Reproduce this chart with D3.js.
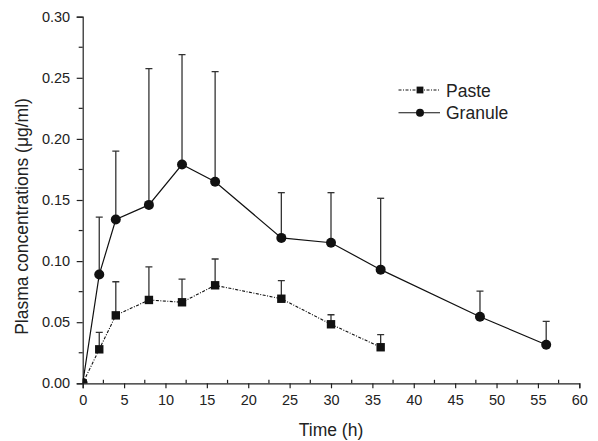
<!DOCTYPE html>
<html><head><meta charset="utf-8">
<script src="https://cdn.jsdelivr.net/npm/d3@7"></script>
<style>body{margin:0;background:#fff}svg{display:block}text{font-family:"Liberation Sans",Arial,sans-serif;fill:#222}</style>
</head><body><div id="c"></div>
<script>
const times = [0,2,4,8,12,16,24,30,36,48,56];
const granuleMean = [0,0.089,0.134,0.146,0.179,0.165,0.119,0.115,0.093,0.0545,0.0316];
const granuleSD = [0,0.047,0.056,0.1115,0.090,0.090,0.037,0.041,0.0584,0.021,0.019];
const pasteTimes = [0,2,4,8,12,16,24,30,36];
const pasteMean = [0,0.0278,0.0556,0.0682,0.0663,0.0802,0.0692,0.0483,0.0295];
const pasteSD = [0,0.0139,0.0275,0.027,0.019,0.0215,0.0148,0.0078,0.0103];
const xTicks = [0,5,10,15,20,25,30,35,40,45,50,55,60];
const yTicks = [0,0.05,0.10,0.15,0.20,0.25,0.30];
const seriesNames = ["Paste","Granule"];

const W=598,H=441;
const svg=d3.select("#c").append("svg").attr("width",W).attr("height",H);
const x=d3.scaleLinear().domain([0,60]).range([82.7,579.3]);
const y=d3.scaleLinear().domain([0,0.30]).range([383.3,16.7]);
const ink="#222";

svg.append("defs").append("clipPath").attr("id","pc").append("rect")
  .attr("x",x(0)).attr("y",0).attr("width",x(60)-x(0)+10).attr("height",y(0));

// axes
const xAx=svg.append("g").attr("transform",`translate(0,${y(0)})`)
  .call(d3.axisBottom(x).tickValues(xTicks).tickSize(5).tickPadding(6).tickFormat(d3.format("d")));
const yAx=svg.append("g").attr("transform",`translate(${x(0)},0)`)
  .call(d3.axisLeft(y).tickValues(yTicks).tickSize(6).tickPadding(6.5).tickFormat(d3.format(".2f")));
[xAx,yAx].forEach(g=>{
  g.select(".domain").attr("stroke",ink).attr("stroke-width",1.2);
  g.selectAll(".tick line").attr("stroke",ink).attr("stroke-width",1.2);
  g.selectAll(".tick text").attr("font-size",14.5).attr("fill","#222").style("font-family","Liberation Sans, Arial, sans-serif");
});
// minor ticks
svg.append("g").selectAll("line").data(d3.range(2.5,60,5)).join("line")
  .attr("x1",d=>x(d)).attr("x2",d=>x(d)).attr("y1",y(0)).attr("y2",y(0)-3.5)
  .attr("stroke",ink).attr("stroke-width",1.2);
svg.append("g").selectAll("line").data(d3.range(0.025,0.30,0.05)).join("line")
  .attr("x1",x(0)).attr("x2",x(0)-4).attr("y1",d=>y(d)).attr("y2",d=>y(d))
  .attr("stroke",ink).attr("stroke-width",1.2);

// titles
svg.append("text").attr("x",331).attr("y",436).attr("text-anchor","middle").attr("font-size",17.5).text("Time (h)");
svg.append("text").attr("transform",`translate(28,216.5) rotate(-90)`).attr("text-anchor","middle").attr("font-size",17.5).text("Plasma concentrations (\u03bcg/ml)");

const plot=svg.append("g").attr("clip-path","url(#pc)");
const granule=times.map((t,i)=>({t,m:granuleMean[i],s:granuleSD[i]}));
const paste=pasteTimes.map((t,i)=>({t,m:pasteMean[i],s:pasteSD[i]}));

// error bars
function errBars(data){
  const g=plot.append("g").attr("stroke","#333").attr("stroke-width",1.3);
  data.filter(d=>d.s>0).forEach(d=>{
    g.append("line").attr("x1",x(d.t)).attr("x2",x(d.t)).attr("y1",y(d.m)).attr("y2",y(d.m+d.s));
    g.append("line").attr("x1",x(d.t)-3.5).attr("x2",x(d.t)+3.5).attr("y1",y(d.m+d.s)).attr("y2",y(d.m+d.s));
  });
}
errBars(granule);errBars(paste);

const line=d3.line().x(d=>x(d.t)).y(d=>y(d.m));
plot.append("path").datum(granule).attr("d",line).attr("fill","none").attr("stroke","#111").attr("stroke-width",1.2);
plot.append("path").datum(paste).attr("d",line).attr("fill","none").attr("stroke","#111").attr("stroke-width",1.1).attr("stroke-dasharray","3,1.5,1,1.5");

plot.append("g").selectAll("circle").data(granule).join("circle")
  .attr("cx",d=>x(d.t)).attr("cy",d=>y(d.m)).attr("r",5).attr("fill","#111");
plot.append("g").selectAll("rect").data(paste).join("rect")
  .attr("x",d=>x(d.t)-4.2).attr("y",d=>y(d.m)-4.2).attr("width",8.4).attr("height",8.4).attr("fill","#111");

// legend
const lg=svg.append("g");
const ly=[90,112.7];
seriesNames.forEach((n,i)=>{
  const l=lg.append("line").attr("x1",398.5).attr("x2",440).attr("y1",ly[i]).attr("y2",ly[i]).attr("stroke","#111").attr("stroke-width",1.1);
  if(i===0){ l.attr("stroke-dasharray","3,1.5,1,1.5");
    lg.append("rect").attr("x",416.6).attr("y",ly[i]-3.4).attr("width",6.8).attr("height",6.8).attr("fill","#111");
  } else {
    lg.append("circle").attr("cx",420).attr("cy",ly[i]).attr("r",4).attr("fill","#111");
  }
  lg.append("text").attr("x",446).attr("y",ly[i]+6.5).attr("font-size",17.5).text(n);
});
</script></body></html>
